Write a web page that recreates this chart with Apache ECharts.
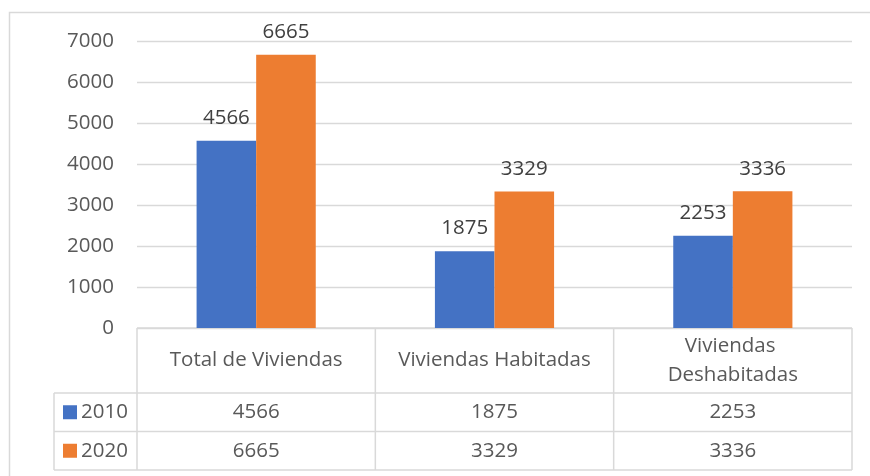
<!DOCTYPE html>
<html><head><meta charset="utf-8">
<script src="https://cdn.jsdelivr.net/npm/echarts@6/dist/echarts.min.js"></script>
<style>html,body{margin:0;padding:0;background:#fff}#c{width:870px;height:476px}</style>
</head><body><div id="c"></div>
<script>
const categories = ['Total de Viviendas', 'Viviendas Habitadas', 'Viviendas Deshabitadas'];
const seriesNames = ['2010', '2020'];
const values2010 = [4566, 1875, 2253];
const values2020 = [6665, 3329, 3336];
const yMin = 0, yMax = 7000, yStep = 1000;
const colors = ['#4472C4', '#ED7D31'];

const FONT = '"Open Sans"';
const FS = 20.5;
const gridColor = '#d9d9d9';
const textColor = '#595959';

const chart = echarts.init(document.getElementById('c'), null, {renderer: 'canvas'});
const allValues = [values2010, values2020];

chart.setOption({
  animation: false,
  backgroundColor: '#fff',
  textStyle: {fontFamily: FONT},
  grid: {left: 137, right: 18, top: 41, bottom: 148},
  xAxis: {
    type: 'category', data: categories,
    axisLine: {show: false}, axisTick: {show: false}, axisLabel: {show: false}
  },
  yAxis: {
    type: 'value', min: yMin, max: yMax, interval: yStep,
    axisLine: {show: false}, axisTick: {show: false},
    axisLabel: {fontFamily: FONT, fontSize: FS, color: textColor, margin: 23, formatter: v => String(v)},
    splitLine: {lineStyle: {color: gridColor, width: 1.3}}
  },
  series: seriesNames.map((n, i) => ({
    name: n, type: 'bar', data: allValues[i],
    barGap: '0%', barCategoryGap: '50%',
    itemStyle: {color: colors[i]},
    label: {show: true, position: 'top', distance: 12, fontFamily: FONT, fontSize: FS, color: '#404040'}
  }))
});

// Build data table beneath the plot from the same arrays
const x0 = chart.convertToPixel({xAxisIndex: 0}, 0);
const x1 = chart.convertToPixel({xAxisIndex: 0}, 1);
const band = x1 - x0;
const left = x0 - band / 2;
const right = left + band * categories.length;
const yTop = chart.convertToPixel({yAxisIndex: 0}, 0);
const headerH = 65, rowH = 38.5, legendLeft = 54;
const rowsTop = yTop + headerH;
const tableBottom = rowsTop + rowH * seriesNames.length;
const lw = 1.5;
const lineStyle = {stroke: gridColor, lineWidth: lw};
const g = [];
function hline(x1_, x2_, y) { g.push({type: 'line', shape: {x1: x1_, y1: y, x2: x2_, y2: y}, style: lineStyle, silent: true}); }
function vline(x, y1_, y2_) { g.push({type: 'line', shape: {x1: x, y1: y1_, x2: x, y2: y2_}, style: lineStyle, silent: true}); }

// outer border
g.push({type: 'rect', shape: {x: 9.5, y: 12.5, width: 880, height: 480}, style: {fill: 'none', stroke: gridColor, lineWidth: 1.5}, silent: true});

hline(left, right, yTop);
for (let r = 0; r <= seriesNames.length; r++) hline(legendLeft, right, rowsTop + rowH * r);
for (let c = 0; c <= categories.length; c++) vline(left + band * c, yTop, tableBottom);
vline(legendLeft, rowsTop, tableBottom);

const font = FS + 'px ' + FONT;
categories.forEach((cat, c) => {
  g.push({type: 'text', silent: true, style: {
    x: left + band * (c + 0.5), y: yTop + headerH / 2,
    text: cat, width: 215, overflow: 'break', lineHeight: 29,
    align: 'center', verticalAlign: 'middle',
    font: font, fill: textColor
  }});
  allValues.forEach((vals, r) => {
    g.push({type: 'text', silent: true, style: {
      x: left + band * (c + 0.5), y: rowsTop + rowH * (r + 0.5),
      text: String(vals[c]), align: 'center', verticalAlign: 'middle',
      font: font, fill: textColor
    }});
  });
});
seriesNames.forEach((n, r) => {
  const cy = rowsTop + rowH * (r + 0.5);
  g.push({type: 'rect', silent: true, shape: {x: 63, y: cy - 7, width: 14, height: 14}, style: {fill: colors[r]}});
  g.push({type: 'text', silent: true, style: {
    x: 81, y: cy, text: n, align: 'left', verticalAlign: 'middle',
    font: font, fill: textColor
  }});
});

chart.setOption({graphic: {elements: g}});
</script>
</body></html>
